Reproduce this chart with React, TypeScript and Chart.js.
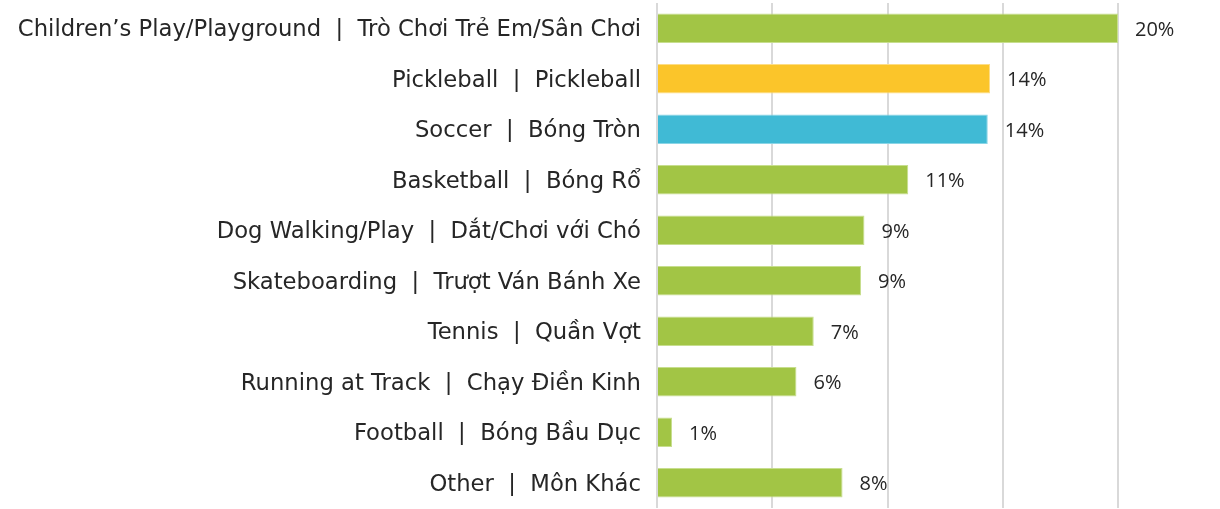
import React, { useEffect, useRef } from "react";
import { Chart, registerables } from "chart.js";

Chart.register(...registerables);

const categories = [
  "Children’s Play/Playground  |  Trò Chơi Trẻ Em/Sân Chơi",
  "Pickleball  |  Pickleball",
  "Soccer  |  Bóng Tròn",
  "Basketball  |  Bóng Rổ",
  "Dog Walking/Play  |  Dắt/Chơi với Chó",
  "Skateboarding  |  Trượt Ván Bánh Xe",
  "Tennis  |  Quần Vợt",
  "Running at Track  |  Chạy Điền Kinh",
  "Football  |  Bóng Bầu Dục",
  "Other  |  Môn Khác",
];
const values = [20.0, 14.45, 14.35, 10.9, 9.0, 8.85, 6.8, 6.05, 0.65, 8.05];
const valueLabels = ["20%", "14%", "14%", "11%", "9%", "9%", "7%", "6%", "1%", "8%"];
const barColors = [
  "#A2C545", "#FBC52A", "#40BAD5", "#A2C545", "#A2C545",
  "#A2C545", "#A2C545", "#A2C545", "#A2C545", "#A2C545",
];
const borderColors = [
  "#C7DE8E", "#FDDD85", "#8AD5E6", "#C7DE8E", "#C7DE8E",
  "#C7DE8E", "#C7DE8E", "#C7DE8E", "#C7DE8E", "#C7DE8E",
];

const valueLabelPlugin = {
  id: "valueLabels",
  afterDatasetsDraw(chart: any) {
    const ctx = chart.ctx;
    const meta = chart.getDatasetMeta(0);
    ctx.save();
    ctx.font = '20px "Open Sans"';
    ctx.fillStyle = "#262626";
    ctx.textBaseline = "middle";
    ctx.textAlign = "left";
    meta.data.forEach((bar: any, i: number) => {
      ctx.fillText(valueLabels[i], bar.x + 17, bar.y + 2);
    });
    ctx.restore();
  },
};

export default function App() {
  const ref = useRef<HTMLCanvasElement>(null);
  useEffect(() => {
    document.body.style.margin = "0";
    const chart = new Chart(ref.current!, {
      type: "bar",
      data: {
        labels: categories,
        datasets: [
          {
            data: values,
            backgroundColor: barColors,
            borderColor: borderColors,
            borderWidth: 1,
            categoryPercentage: 1,
            barPercentage: 0.58,
          },
        ],
      },
      options: {
        indexAxis: "y",
        animation: false,
        responsive: false,
        maintainAspectRatio: false,
        layout: { padding: { top: 3, bottom: 1, right: 102, left: 0 } },
        plugins: { legend: { display: false }, tooltip: { enabled: false } },
        scales: {
          x: {
            min: 0,
            max: 20,
            ticks: { display: false, stepSize: 5 },
            grid: { color: "#D9D9D9", lineWidth: 2, drawTicks: false },
            border: { display: false },
          },
          y: {
            ticks: {
              color: "#262626",
              font: { family: "DejaVu Sans", size: 22.7 },
              padding: 16,
              labelOffset: 2,
            },
            grid: { display: false, drawTicks: false },
            border: { display: false },
            afterFit: (scale: any) => {
              scale.width = 657;
              scale.paddingTop = 0;
              scale.paddingBottom = 0;
            },
          },
        },
      },
      plugins: [valueLabelPlugin],
    });
    return () => chart.destroy();
  }, []);
  return (
    <div style={{ position: "absolute", left: 0, top: 0, width: 1220, height: 509 }}>
      <canvas ref={ref} width={1220} height={509} style={{ width: 1220, height: 509 }} />
    </div>
  );
}
